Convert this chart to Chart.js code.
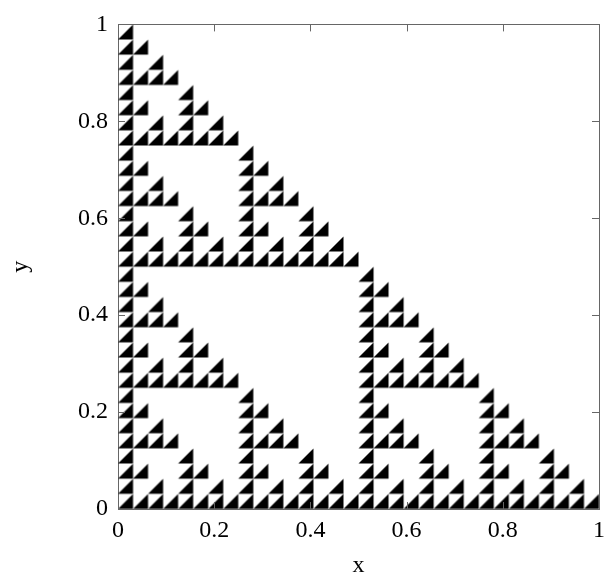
<!DOCTYPE html>
<html>
<head>
<meta charset="utf-8">
<script src="https://cdn.jsdelivr.net/npm/chart.js@4/dist/chart.umd.min.js"></script>
<style>
  html, body { margin: 0; padding: 0; background: #fff; }
  #wrap { width: 612px; height: 581px; position: relative; }
</style>
</head>
<body>
<div id="wrap"><canvas id="c" width="612" height="581"></canvas></div>
<script>
// ---- data ----
const gridN = 32;                        // cells per unit side
const xTicks = [0, 0.2, 0.4, 0.6, 0.8, 1];
const yTicks = [0, 0.2, 0.4, 0.6, 0.8, 1];
const xTitle = 'x';
const yTitle = 'y';
// filled cells, top row first ('#' = black right-angled triangle)
const rows = [
  "#",
  "##",
  "#.#",
  "####",
  "#...#",
  "##..##",
  "#.#.#.#",
  "########",
  "#.......#",
  "##......##",
  "#.#.....#.#",
  "####....####",
  "#...#...#...#",
  "##..##..##..##",
  "#.#.#.#.#.#.#.#",
  "################",
  "#...............#",
  "##..............##",
  "#.#.............#.#",
  "####............####",
  "#...#...........#...#",
  "##..##..........##..##",
  "#.#.#.#.........#.#.#.#",
  "########........########",
  "#.......#.......#.......#",
  "##......##......##......##",
  "#.#.....#.#.....#.#.....#.#",
  "####....####....####....####",
  "#...#...#...#...#...#...#...#",
  "##..##..##..##..##..##..##..##",
  "#.#.#.#.#.#.#.#.#.#.#.#.#.#.#.#",
  "################################"
];

// build points (cell centres) from the grid
const points = [];
rows.forEach((row, i) => {
  const r = gridN - 1 - i;
  for (let c = 0; c < row.length; c++) {
    if (row[c] === '#') points.push({ x: (c + 0.5) / gridN, y: (r + 0.5) / gridN });
  }
});

const FONT = "'Liberation Serif', 'DejaVu Serif', serif";

// right-angled triangle marker sized to one cell through the scales
const triCache = {};
function triangleStyle(ctx) {
  const ch = ctx.chart;
  const xs = ch.scales.x, ys = ch.scales.y;
  if (!xs || !ys) return 'triangle';
  const w = Math.abs(xs.getPixelForValue(1 / gridN) - xs.getPixelForValue(0));
  const h = Math.abs(ys.getPixelForValue(1 / gridN) - ys.getPixelForValue(0));
  const key = w.toFixed(3) + 'x' + h.toFixed(3);
  if (triCache[key]) return triCache[key];
  const cw = Math.ceil(w) + 2, chh = Math.ceil(h) + 2;
  const cv = document.createElement('canvas');
  cv.width = cw; cv.height = chh;
  const g = cv.getContext('2d');
  const ox = (cw - w) / 2, oy = (chh - h) / 2;
  g.fillStyle = '#000';
  g.beginPath();
  g.moveTo(ox, oy + h);
  g.lineTo(ox + w, oy + h);
  g.lineTo(ox + w, oy);
  g.closePath();
  g.fill();
  triCache[key] = cv;
  return cv;
}

const inwardTicks = {
  id: 'inwardTicks',
  afterDatasetsDraw(chart) {
    const { ctx, chartArea: a, scales } = chart;
    ctx.save();
    ctx.strokeStyle = '#666';
    ctx.lineWidth = 1;
    const L = 7;
    xTicks.forEach(v => {
      const px = Math.round(scales.x.getPixelForValue(v)) + 0.5;
      ctx.beginPath();
      ctx.moveTo(px, a.bottom); ctx.lineTo(px, a.bottom - L);
      ctx.moveTo(px, a.top); ctx.lineTo(px, a.top + L);
      ctx.stroke();
    });
    yTicks.forEach(v => {
      const py = Math.round(scales.y.getPixelForValue(v)) + 0.5;
      ctx.beginPath();
      ctx.moveTo(a.left, py); ctx.lineTo(a.left + L, py);
      ctx.moveTo(a.right, py); ctx.lineTo(a.right - L, py);
      ctx.stroke();
    });
    ctx.restore();
  }
};

const setTicks = arr => scale => { scale.ticks = arr.map(v => ({ value: v })); };

new Chart(document.getElementById('c'), {
  type: 'scatter',
  data: {
    datasets: [{
      data: points,
      pointStyle: triangleStyle,
      pointRadius: 8,
      pointHoverRadius: 8,
      backgroundColor: '#000',
      borderColor: '#000'
    }]
  },
  options: {
    responsive: false,
    animation: false,
    events: [],
    layout: { padding: 0 },
    plugins: { legend: { display: false }, tooltip: { enabled: false } },
    scales: {
      x: {
        type: 'linear', position: 'bottom', min: 0, max: 1,
        afterBuildTicks: setTicks(xTicks),
        afterFit: s => { s.height = 72; },
        grid: { display: false, drawTicks: false },
        border: { display: true, color: '#666', width: 1 },
        ticks: { color: '#000', padding: 7, maxRotation: 0, font: { family: FONT, size: 24 },
                 callback: v => String(v) },
        title: { display: true, text: xTitle, color: '#000', font: { family: FONT, size: 24 },
                 padding: { top: 0, bottom: 1 } }
      },
      y: {
        type: 'linear', position: 'left', min: 0, max: 1,
        afterBuildTicks: setTicks(yTicks),
        afterFit: s => { s.width = 118; },
        grid: { display: false, drawTicks: false },
        border: { display: true, color: '#666', width: 1 },
        ticks: { color: '#000', padding: 10, font: { family: FONT, size: 24 },
                 callback: v => String(v) },
        title: { display: true, text: yTitle, color: '#000', font: { family: FONT, size: 24 },
                 padding: { top: 6, bottom: 0 } }
      },
      x2: {
        type: 'linear', position: 'top', min: 0, max: 1,
        afterFit: s => { s.height = 19; },
        grid: { display: false, drawTicks: false },
        border: { display: true, color: '#666', width: 1 },
        ticks: { display: false }
      },
      y2: {
        type: 'linear', position: 'right', min: 0, max: 1,
        afterFit: s => { s.width = 4; },
        grid: { display: false, drawTicks: false },
        border: { display: true, color: '#666', width: 1 },
        ticks: { display: false }
      }
    }
  },
  plugins: [inwardTicks]
});
</script>
</body>
</html>
